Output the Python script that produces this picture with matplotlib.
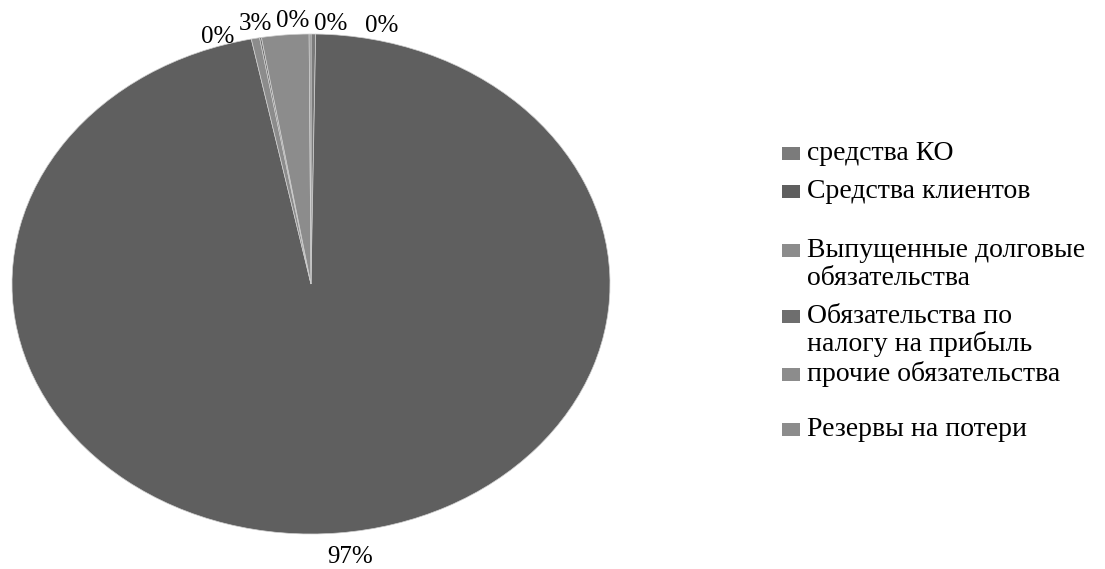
import numpy as np
import matplotlib.pyplot as plt
from matplotlib.patches import Rectangle

plt.rcParams['font.family'] = ['Liberation Serif', 'DejaVu Serif']

# структура пассивов, % от итога
categories = ["средства КО", "Средства клиентов", "Выпущенные долговые\nобязательства",
              "Обязательства по\nналогу на прибыль", "прочие обязательства", "Резервы на потери"]
values = [0.25, 96.55, 0.45, 0.1, 2.55, 0.1]
colors = ["#7b7b7b", "#5f5f5f", "#8c8c8c", "#6e6e6e", "#8c8c8c", "#8c8c8c"]

W, H = 1105, 569
fig = plt.figure(figsize=(W / 100, H / 100), dpi=100)

# эллипс круговой диаграммы (в пикселях)
cx, cy, rx, ry = 311, 284, 299, 250
ax = fig.add_axes([(cx - rx) / W, 1 - (cy + ry) / H, 2 * rx / W, 2 * ry / H])
wedges, _ = ax.pie(values, colors=colors, startangle=90, counterclock=False,
                   radius=1, wedgeprops=dict(edgecolor="#d0d0d0", linewidth=0.5))
ax.set_aspect("auto")
ax.set_xlim(-1, 1)
ax.set_ylim(-1, 1)

# подписи долей: радиус и сдвиг по x, чтобы мелкие не налезали друг на друга
nudge_x = [0.229, 0.027, -0.129, 0.116, -0.099, 0.070]
label_r = [1.008, 1.121, 0.981, 1.043, 1.020, 1.016]
for i, w in enumerate(wedges):
    ang = np.deg2rad((w.theta1 + w.theta2) / 2)
    x = label_r[i] * np.cos(ang) + nudge_x[i]
    y = label_r[i] * np.sin(ang)
    ax.text(x, y, "%.0f%%" % values[i], ha="center", va="baseline", fontsize=18,
            clip_on=False)

# легенда справа (базовая линия первой строки каждого пункта)
first_line_y = [160, 198, 257, 323, 381, 436]
line_step = 28
for lab, col, yy in zip(categories, colors, first_line_y):
    fig.patches.append(Rectangle((782 / W, 1 - yy / H), 18 / W, 13 / H,
                                 transform=fig.transFigure, facecolor=col,
                                 edgecolor="none"))
    for k, line in enumerate(lab.split("\n")):
        fig.text(807 / W, 1 - (yy + k * line_step) / H, line, ha="left",
                 va="baseline", fontsize=20)

fig.savefig("out.png", dpi=100)
